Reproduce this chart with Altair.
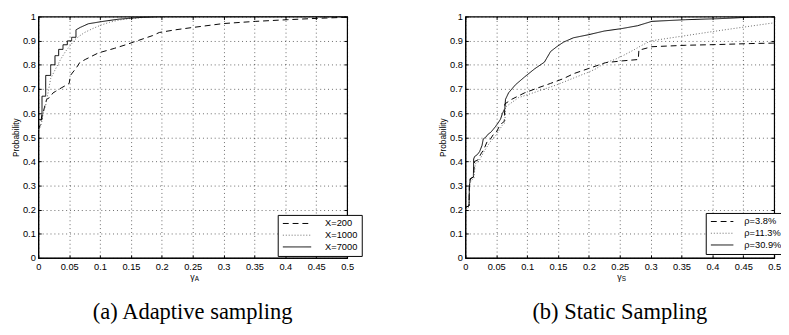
import altair as alt
import pandas as pd

# ---------- data ----------
a_names = ["X=200", "X=1000", "X=7000"]

a200_x = [0, 0.003, 0.006, 0.0073, 0.0135, 0.018, 0.024, 0.028, 0.037, 0.046, 0.05, 0.052, 0.062, 0.067,
          0.076, 0.097, 0.123, 0.144, 0.154, 0.185, 0.196, 0.222, 0.248, 0.3, 0.352, 0.404, 0.456, 0.5]
a200_y = [0.53, 0.55, 0.592, 0.598, 0.657, 0.664, 0.684, 0.69, 0.704, 0.717, 0.723, 0.756, 0.789, 0.809,
          0.822, 0.849, 0.868, 0.885, 0.894, 0.921, 0.934, 0.945, 0.954, 0.971, 0.98, 0.987, 0.993, 0.997]

a1000_x = [0, 0.004, 0.006, 0.008, 0.0125, 0.02, 0.028, 0.036, 0.044, 0.052, 0.059, 0.067, 0.075, 0.088,
           0.101, 0.115, 0.132, 0.15, 0.17, 0.2, 0.25, 0.5]
a1000_y = [0.53, 0.545, 0.57, 0.60, 0.638, 0.743, 0.783, 0.822, 0.855, 0.881, 0.904, 0.92, 0.934, 0.95,
           0.964, 0.976, 0.986, 0.992, 0.996, 0.999, 1.0, 1.0]

a7000_x = [0, 0.006, 0.006, 0.012, 0.012, 0.02, 0.02, 0.027, 0.027, 0.033, 0.033, 0.04, 0.04, 0.047, 0.047,
           0.054, 0.054, 0.061, 0.061, 0.068, 0.081, 0.1, 0.113, 0.13, 0.149, 0.17, 0.2, 0.5]
a7000_y = [0.573, 0.573, 0.67, 0.67, 0.756, 0.756, 0.80, 0.80, 0.838, 0.838, 0.864, 0.864, 0.883, 0.883, 0.899,
           0.899, 0.914, 0.914, 0.945, 0.955, 0.97, 0.978, 0.983, 0.989, 0.993, 0.997, 1.0, 1.0]

b_names = ["\u03c1=3.8%", "\u03c1=11.3%", "\u03c1=30.9%"]

b38_x = [0, 0.006, 0.0065, 0.008, 0.013, 0.015, 0.02, 0.025, 0.03, 0.035, 0.04, 0.045, 0.05, 0.055, 0.06,
         0.063, 0.064, 0.075, 0.096, 0.117, 0.138, 0.159, 0.175, 0.2, 0.227, 0.253, 0.28, 0.281, 0.286, 0.302,
         0.357, 0.409, 0.461, 0.5]
b38_y = [0.209, 0.216, 0.3, 0.328, 0.335, 0.40, 0.405, 0.43, 0.45, 0.48, 0.49, 0.51, 0.52, 0.545, 0.56,
         0.565, 0.638, 0.657, 0.684, 0.704, 0.723, 0.743, 0.763, 0.785, 0.809, 0.816, 0.822, 0.862, 0.864, 0.875,
         0.881, 0.884, 0.888, 0.89]

b113_x = [0, 0.006, 0.007, 0.009, 0.014, 0.016, 0.022, 0.03, 0.04, 0.05, 0.06, 0.064, 0.065, 0.086, 0.117,
          0.148, 0.18, 0.2, 0.211, 0.227, 0.242, 0.253, 0.273, 0.286, 0.3, 0.357, 0.409, 0.461, 0.5]
b113_y = [0.2, 0.21, 0.3, 0.32, 0.33, 0.39, 0.40, 0.44, 0.48, 0.51, 0.55, 0.56, 0.625, 0.664, 0.69,
          0.717, 0.75, 0.77, 0.783, 0.809, 0.822, 0.835, 0.862, 0.881, 0.899, 0.921, 0.941, 0.96, 0.974]

b309_x = [0, 0.006, 0.0065, 0.008, 0.013, 0.0135, 0.015, 0.019, 0.023, 0.027, 0.029, 0.033, 0.037, 0.041,
          0.045, 0.049, 0.053, 0.057, 0.06, 0.064, 0.065, 0.07, 0.081, 0.096, 0.112, 0.128, 0.138, 0.148, 0.159,
          0.175, 0.2, 0.225, 0.253, 0.279, 0.302, 0.357, 0.409, 0.45, 0.5]
b309_y = [0.209, 0.216, 0.3, 0.328, 0.335, 0.41, 0.42, 0.427, 0.44, 0.466, 0.493, 0.5, 0.513, 0.52,
          0.532, 0.545, 0.559, 0.575, 0.598, 0.62, 0.657, 0.684, 0.717, 0.75, 0.783, 0.811, 0.855, 0.875, 0.894,
          0.912, 0.925, 0.94, 0.95, 0.962, 0.98, 0.987, 0.991, 0.996, 0.999]

x_ticks = [0, 0.05, 0.1, 0.15, 0.2, 0.25, 0.3, 0.35, 0.4, 0.45, 0.5]
y_ticks = [0, 0.1, 0.2, 0.3, 0.4, 0.5, 0.6, 0.7, 0.8, 0.9, 1]

captions = ["(a)  Adaptive sampling", "(b)  Static Sampling"]
subscripts = ["A", "S"]

# ---------- layout / style ----------
W, H = 316, 247
SANS = "Liberation Sans"
SERIF = "Liberation Serif"
DASHES = [[6, 4], [1, 2], [1, 0]]
COLORS = ["#000000", "#666666", "#000000"]
SYM = 49            # legend symbol "size" -> unit = 3.5 px
UNIT = 3.5
INWARD = {"expr": "-3"}


def long_df(names, xs, ys):
    rows = []
    for n, xx, yy in zip(names, xs, ys):
        for i, (a, b) in enumerate(zip(xx, yy)):
            rows.append({"series": n, "x": a, "y": b, "i": i})
    return pd.DataFrame(rows)


def grid_axis(values, **kw):
    return alt.Axis(values=values, format="~g", labelFont=SANS, labelFontSize=9.5,
                    labelColor="black", tickSize=INWARD, tickColor="black", ticks=True,
                    domainColor="black", grid=True, gridColor="#000000", gridDash=[1, 3],
                    gridOpacity=0.75, gridWidth=0.8, labelFlush=False, labelOverlap=False, **kw)


def mirror_axis(values, orient):
    return alt.Axis(values=values, orient=orient, labels=False, title=None, domain=False,
                    grid=False, ticks=True, tickSize=INWARD, tickColor="black")


def panel(df, names, sub, caption, leg_x, leg_y, sym_len):
    k = (sym_len / 2) / UNIT
    legend = alt.Legend(
        title=None, orient="none", legendX=leg_x, legendY=leg_y,
        symbolType=f"M-{k:.3f},0H{k:.3f}", symbolSize=SYM, symbolStrokeWidth=1,
        symbolOffset=sym_len / 2 - UNIT, labelOffset=sym_len + 2 - 2 * UNIT,
        labelFont=SANS, labelFontSize=9.5, labelColor="black",
        strokeColor="black", fillColor="white", padding=4, rowPadding=1,
        cornerRadius=0, labelLimit=100,
    )
    xs = alt.Scale(domain=[0, 0.5], nice=False, zero=False)
    ys = alt.Scale(domain=[0, 1], nice=False)
    lines = alt.Chart(df).mark_line(strokeWidth=1, clip=True).encode(
        x=alt.X("x:Q", scale=xs, axis=grid_axis(x_ticks, title=None, labelPadding=6.5)),
        y=alt.Y("y:Q", scale=ys,
                axis=grid_axis(y_ticks, title="Probability", titleFont=SANS, titleFontSize=8.5,
                               titleFontWeight="normal", titleColor="black", titlePadding=2,
                               labelPadding=6)),
        strokeDash=alt.StrokeDash("series:N", scale=alt.Scale(domain=names, range=DASHES), legend=legend),
        color=alt.Color("series:N", scale=alt.Scale(domain=names, range=COLORS), legend=legend),
        order=alt.Order("i:Q"),
    )
    frame = alt.Chart(df).mark_point(opacity=0).encode(
        x=alt.X("x:Q", scale=xs, axis=mirror_axis(x_ticks, "top")),
        y=alt.Y("y:Q", scale=ys, axis=mirror_axis(y_ticks, "right")),
    )
    g = alt.Chart(pd.DataFrame({"t": ["\u03b3"]})).mark_text(
        font=SANS, fontSize=9, color="black", align="right", baseline="middle"
    ).encode(text="t:N", x=alt.value(W / 2 + 2), y=alt.value(H + 20))
    s = alt.Chart(pd.DataFrame({"t": [sub]})).mark_text(
        font=SANS, fontSize=6.5, color="black", align="left", baseline="middle"
    ).encode(text="t:N", x=alt.value(W / 2 + 2), y=alt.value(H + 22))
    return alt.layer(lines, frame, g, s).resolve_axis(x="independent", y="independent").properties(
        width=W, height=H,
        title=alt.TitleParams(caption, orient="bottom", font=SERIF, fontSize=23,
                              fontWeight="normal", color="black", offset=19, anchor="middle"),
    )


df_a = long_df(a_names, [a200_x, a1000_x, a7000_x], [a200_y, a1000_y, a7000_y])
df_b = long_df(b_names, [b38_x, b113_x, b309_x], [b38_y, b113_y, b309_y])

pa = panel(df_a, a_names, subscripts[0], captions[0], 245, 203, 29)
pb = panel(df_b, b_names, subscripts[1], captions[1], 246, 201, 23)

chart = alt.hconcat(pa, pb, spacing=76).resolve_scale(
    strokeDash="independent", color="independent"
).properties(
    padding={"left": 3, "top": -1, "right": -7, "bottom": 0},
    background="white",
).configure_view(stroke="black", strokeWidth=1.2)

chart.save("out.html", embed_options={"renderer": "svg", "actions": False})
